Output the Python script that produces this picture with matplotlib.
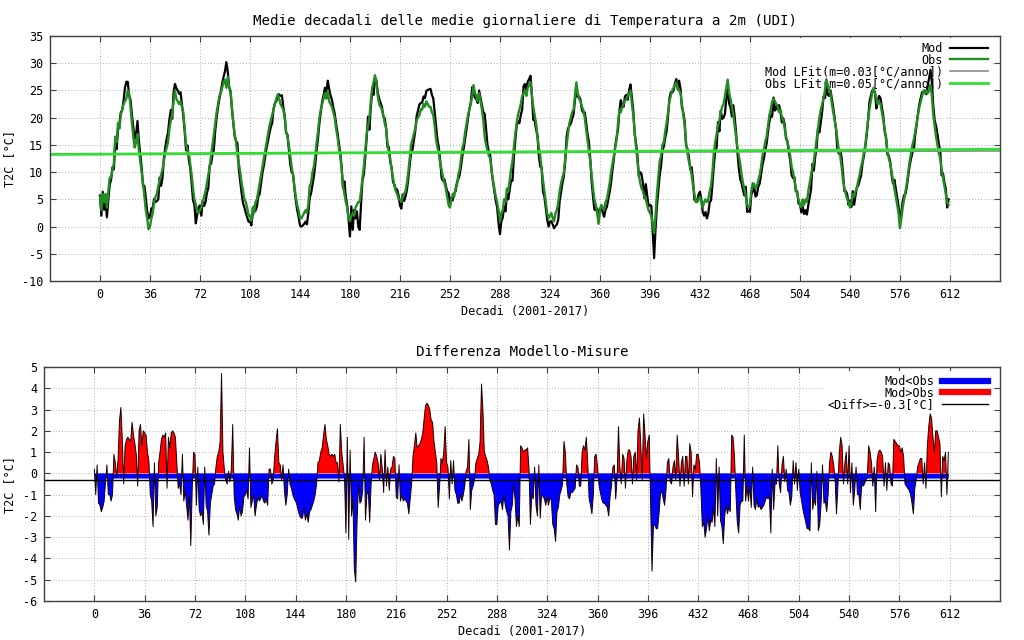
import numpy as np
import matplotlib
matplotlib.use("Agg")
import matplotlib.pyplot as plt
from matplotlib.lines import Line2D

# decadal means of observed T2C, one list per year (36 decades)
obs_2001 = [5.5, 3.0, 6.0, 4.5, 6.0, 3.5, 6.5, 9.0, 9.0, 10.5, 11.5, 16.5, 15.5, 19.0, 18.0, 20.5, 21.5, 22.5,
            23.0, 23.5, 25.0, 24.5, 22.0, 19.0, 16.5, 14.5, 15.5, 17.0, 14.0, 12.0, 10.0, 8.0, 5.5, 3.0, 1.5, -0.5]
obs_2002 = [0.0, 1.5, 2.5, 4.5, 5.5, 6.0, 7.5, 8.5, 9.5, 10.5, 12.0, 13.5, 14.5, 15.5, 18.0, 19.5, 20.5, 23.0,
            25.0, 23.5, 23.0, 22.5, 23.0, 22.0, 21.0, 18.0, 15.0, 14.0, 13.5, 11.5, 9.5, 7.0, 5.0, 4.0, 3.0, 2.5]
obs_2003 = [3.0, 3.5, 4.5, 5.5, 6.5, 8.0, 9.5, 11.0, 13.0, 15.0, 17.0, 19.0, 21.0, 22.5, 24.0, 24.5, 25.5, 26.5,
            27.0, 25.5, 27.5, 25.5, 25.0, 22.0, 19.0, 17.0, 15.5, 13.0, 11.5, 10.0, 8.0, 6.5, 5.0, 4.5, 3.5, 2.0]
obs_2004 = [2.0, 1.0, 3.5, 2.5, 4.5, 5.0, 6.5, 8.0, 9.5, 11.0, 12.5, 14.0, 15.5, 17.0, 18.5, 19.5, 20.5, 21.5,
            22.5, 23.5, 24.3, 23.5, 22.5, 22.0, 21.5, 20.0, 17.5, 16.5, 15.0, 13.0, 11.0, 9.5, 7.5, 5.5, 4.0, 3.0]
obs_2005 = [1.5, 1.5, 2.0, 2.5, 3.0, 2.5, 4.0, 7.5, 8.0, 10.0, 11.0, 13.0, 15.5, 17.5, 20.0, 21.5, 22.5, 23.5,
            24.5, 23.5, 25.0, 23.0, 22.5, 22.0, 21.0, 20.0, 18.0, 16.5, 14.5, 13.0, 10.5, 7.5, 6.0, 4.5, 3.5, 1.5]
obs_2006 = [1.0, 2.0, 2.5, 2.0, 3.5, 4.0, 4.5, 4.5, 6.5, 9.0, 11.0, 14.0, 17.0, 18.5, 20.0, 23.0, 25.5, 26.5,
            27.8, 26.5, 24.0, 22.5, 22.0, 21.5, 20.5, 19.0, 18.0, 15.5, 13.5, 12.5, 10.5, 9.0, 7.5, 6.5, 6.0, 5.0]
obs_2007 = [5.0, 4.5, 5.5, 6.0, 6.5, 8.0, 10.0, 12.5, 15.0, 16.0, 17.0, 18.0, 19.5, 20.0, 20.5, 21.5, 21.5, 22.5,
            22.0, 23.0, 22.5, 22.0, 22.0, 21.0, 20.5, 18.5, 16.0, 14.5, 13.5, 11.5, 10.5, 9.0, 8.0, 7.0, 5.5, 4.0]
obs_2008 = [3.5, 5.0, 6.0, 5.5, 7.0, 7.5, 9.5, 10.5, 12.5, 14.5, 15.5, 17.5, 19.0, 20.5, 21.5, 22.5, 24.0, 26.0,
            24.5, 24.0, 23.0, 24.5, 23.0, 21.5, 19.5, 16.5, 15.0, 14.0, 13.0, 12.5, 10.0, 8.5, 7.0, 5.5, 4.5, 3.0]
obs_2009 = [1.0, 2.5, 3.0, 5.0, 4.5, 7.0, 6.5, 8.5, 10.5, 12.0, 14.5, 17.0, 19.0, 20.5, 21.5, 22.5, 24.0, 24.5,
            25.0, 24.0, 25.5, 26.0, 26.5, 24.0, 22.0, 20.5, 19.0, 16.5, 14.5, 13.0, 10.5, 8.5, 6.5, 4.5, 2.5, 1.5]
obs_2010 = [2.0, 2.5, 1.5, 1.0, 2.5, 3.0, 4.5, 6.5, 8.0, 9.0, 10.0, 12.5, 15.0, 17.0, 19.0, 20.0, 21.0, 21.5,
            24.0, 26.5, 24.5, 23.5, 23.0, 22.0, 21.5, 20.0, 18.0, 16.0, 14.0, 12.0, 9.5, 7.0, 5.0, 4.0, 2.5, 0.5]
obs_2011 = [3.0, 4.0, 3.5, 3.0, 4.5, 5.0, 6.5, 8.0, 10.0, 11.5, 13.0, 14.5, 16.0, 19.0, 21.5, 21.0, 22.0, 22.5,
            23.0, 23.5, 24.0, 24.5, 25.0, 22.5, 20.5, 17.5, 14.5, 12.0, 9.5, 8.0, 7.0, 6.5, 5.5, 5.0, 4.0, 3.0]
obs_2012 = [2.5, 2.0, 0.5, -1.2, 2.0, 6.0, 9.0, 12.0, 13.0, 15.0, 15.5, 17.5, 19.0, 21.0, 23.0, 24.0, 25.0, 25.5,
            26.0, 26.5, 25.5, 25.0, 24.5, 22.5, 20.5, 18.5, 15.5, 13.5, 12.0, 11.0, 9.5, 7.5, 6.0, 4.5, 4.5, 5.0]
obs_2013 = [5.5, 4.5, 3.5, 4.5, 5.0, 4.5, 5.0, 6.5, 7.5, 10.0, 13.5, 15.5, 17.0, 18.5, 19.5, 21.0, 22.0, 22.5,
            24.0, 25.5, 27.0, 24.5, 23.5, 22.0, 20.5, 18.5, 16.5, 14.5, 13.0, 11.5, 9.5, 8.0, 7.0, 5.5, 4.0, 3.5]
obs_2014 = [4.0, 6.5, 8.0, 7.5, 7.0, 7.5, 8.5, 9.5, 11.0, 13.0, 14.0, 15.5, 16.5, 18.5, 20.5, 21.5, 23.0, 23.5,
            23.0, 22.5, 22.0, 21.0, 21.5, 20.0, 19.5, 18.0, 16.5, 15.5, 14.5, 13.0, 11.0, 10.0, 8.5, 7.0, 6.0, 5.0]
obs_2015 = [4.0, 3.5, 5.0, 4.0, 5.0, 4.5, 6.5, 8.0, 9.5, 11.0, 12.0, 14.0, 16.0, 18.0, 20.0, 21.5, 22.5, 23.5,
            25.0, 27.0, 26.0, 25.0, 24.5, 22.5, 21.0, 19.5, 18.0, 16.0, 14.0, 13.0, 11.0, 8.5, 7.0, 6.0, 5.0, 4.5]
obs_2016 = [3.5, 4.5, 6.0, 5.5, 6.5, 7.0, 8.5, 9.5, 11.0, 12.0, 13.5, 15.0, 17.0, 19.5, 21.5, 23.0, 24.5, 25.5,
            24.5, 23.5, 22.5, 23.0, 22.5, 21.0, 19.5, 18.0, 16.0, 14.0, 12.5, 11.5, 10.0, 8.5, 7.0, 5.5, 4.0, 2.5]
obs_2017 = [-0.3, 1.5, 3.5, 5.0, 6.5, 8.0, 10.0, 12.0, 13.5, 15.0, 16.0, 17.5, 19.0, 20.5, 22.0, 23.0, 24.0, 25.0,
            24.5, 25.0, 24.5, 25.0, 26.0, 24.0, 20.5, 18.5, 16.5, 15.0, 13.5, 12.5, 10.5, 9.0, 7.5, 6.0, 4.5, 4.0]

# model minus observation, same decades
diff_2001 = [0.2, -1.0, 0.4, -1.4, -1.5, -1.8, -1.6, -1.3, -0.4, 0.4, -1.0, -1.0, -1.3, -1.0, 0.9, 0.5, -0.2, 0.7,
             2.5, 3.1, 1.6, -0.5, 1.3, 1.6, 1.7, 1.6, 1.5, 2.4, 1.8, 1.4, 0.9, -0.6, 2.0, 2.3, 1.3, 2.0]
diff_2002 = [1.9, 1.8, 1.0, 0.6, -1.0, -1.3, -2.5, 0.5, -2.0, -1.6, 0.5, 1.0, 1.6, 1.8, 1.7, 1.9, -0.7, 1.7,
             1.2, 1.9, 2.0, 1.9, 1.7, 0.5, -0.7, -0.5, -1.0, 0.9, -1.3, -0.8, -1.5, -2.2, -1.0, -3.4, -0.8, 1.0]
diff_2003 = [0.9, -1.5, 0.3, -1.7, -2.0, -1.8, -2.4, 0.3, -1.5, -1.8, -2.9, -1.4, -1.0, -0.6, -0.5, 0.3, 0.8, 1.0,
             1.5, 4.7, 1.0, 0.2, -0.3, -0.5, 0.1, -0.4, 0.2, 2.3, -1.0, -1.7, -1.9, -2.2, -1.5, -2.0, -1.8, -1.1]
diff_2004 = [-1.0, -0.8, -1.2, 1.2, -1.6, -1.3, -1.0, -2.0, -1.5, -1.1, -1.3, -1.2, -1.0, -1.3, -1.4, -1.2, -1.5, 0.2,
             0.2, -0.5, -0.3, 0.8, 1.5, 2.1, 0.5, 0.4, -0.3, 0.4, -0.8, -1.5, -1.0, 0.2, -0.5, -0.7, -1.0, -1.2]
diff_2005 = [-1.3, -1.5, -1.8, -2.0, -2.1, -2.1, -1.6, -2.2, -1.9, -2.3, -1.8, -1.7, -1.5, -1.3, -1.0, -0.5, 0.5, 0.6,
             1.0, 1.2, 1.8, 2.3, 1.6, 1.3, 0.9, 0.8, 0.9, 0.8, 0.9, 0.5, 0.5, -0.4, 2.3, 1.0, 0.4, -0.2]
diff_2006 = [-2.8, 1.7, -3.1, 1.1, -2.0, -1.2, -4.5, -5.1, -2.2, -0.5, -1.4, -1.3, -0.8, 1.7, -2.2, -1.0, -0.8, -2.3,
             -0.5, 0.4, 0.7, 1.0, 0.8, 0.5, -0.3, 0.9, 0.2, -0.9, 1.1, -0.6, 0.3, -0.8, 0.2, 0.3, 0.8, 0.7]
diff_2007 = [-1.1, -1.2, 0.4, -1.3, -1.0, -1.3, -1.2, -1.3, -1.4, -1.9, -1.2, -0.5, 0.8, 1.3, 1.9, 1.2, 1.3, 1.4,
             1.6, 1.9, 2.6, 3.2, 3.3, 3.2, 3.0, 2.5, 2.4, 1.5, 1.0, 0.5, -1.6, -0.6, 0.7, 0.5, 1.0, 2.2]
diff_2008 = [0.5, 0.3, -1.2, 0.6, -0.5, 0.6, -0.8, -1.0, -1.4, -1.4, -1.0, -1.3, -1.0, -0.6, 0.1, 0.3, 1.6, -1.7,
             -0.8, -0.6, -0.3, 0.5, 0.7, 0.9, 1.5, 4.2, 3.0, 1.0, 0.8, 0.6, 0.3, -0.3, -0.5, -0.8, -1.0, -2.4]
diff_2009 = [-2.4, -1.5, -1.4, -1.3, -1.7, -1.0, -1.5, -1.8, -2.0, -3.6, -1.8, -1.5, -0.5, -1.2, -2.5, -2.0, -2.5, 1.3,
             1.2, 1.0, 1.1, 1.1, 1.2, 0.2, -2.4, -1.0, -1.2, 0.3, -1.5, -2.0, 0.4, -2.1, -1.0, -1.1, -1.2, -1.5]
diff_2010 = [-1.1, -1.5, -1.1, -1.3, -2.4, -2.6, -3.2, -1.8, -1.6, -1.0, -0.8, -0.5, 1.5, 1.0, -0.5, -1.1, -1.2, -0.9,
             -0.9, -0.8, -0.7, 0.4, 0.3, -0.6, -0.6, 1.0, 1.3, 1.1, 1.7, 0.5, -1.2, -1.5, -1.9, -1.0, 0.8, 0.9]
diff_2011 = [0.3, -0.5, -0.9, -1.2, -1.4, -1.4, -1.5, -1.6, -2.0, -1.1, -0.6, 0.3, 0.4, -1.2, -0.3, 2.2, 0.3, -0.5,
             0.9, 0.7, -0.7, 0.6, 1.1, 1.1, 0.8, -0.5, 0.8, 1.0, -0.3, 2.0, 2.6, 1.3, -0.3, 2.8, 1.8, 0.7]
diff_2012 = [1.5, 1.8, -1.5, -4.6, -2.5, -2.4, -2.6, -2.6, -1.9, -1.0, -0.8, -1.2, -1.5, -0.8, 0.5, 0.7, -0.4, -0.5,
             0.3, 0.6, -0.3, 1.8, 0.8, -0.6, 0.5, 0.8, -0.6, 0.8, 0.8, -0.5, 1.4, 1.0, -1.1, 0.4, 0.2, 0.9]
diff_2013 = [0.9, 0.5, -0.8, -2.5, -2.3, -3.0, -2.6, -2.0, -2.7, -2.2, -2.3, -1.6, -2.5, 0.7, -2.0, 0.3, -2.2, -2.5,
             -3.3, -2.0, -1.5, -1.9, -1.6, -1.8, 1.8, 1.7, 0.8, -0.9, -2.3, -2.8, -1.5, -1.3, -1.3, 1.8, -1.3, -0.6]
diff_2014 = [-1.3, -0.6, -1.6, 0.3, -1.5, -1.7, -1.2, -1.6, -1.5, -1.7, -1.6, -1.5, -1.3, -1.1, -1.2, -1.1, -2.8, 0.2,
             -1.7, -0.5, -0.5, 1.3, -0.5, -0.9, 0.4, 0.8, -0.4, 0.2, -0.8, -0.9, -1.5, -1.1, 0.6, -0.5, 0.5, -0.8]
diff_2015 = [0.2, -0.9, -1.3, -1.7, -2.0, -2.3, -2.6, -2.6, -2.7, 0.5, -1.7, -1.2, -1.5, 0.1, -2.7, -2.4, -1.4, 0.4,
             -1.4, -1.3, -1.8, -1.0, 0.5, 1.0, 0.8, 0.4, -0.3, -1.9, -0.6, 1.0, 1.7, 1.3, -0.5, 0.5, 1.0, -0.5]
diff_2016 = [1.3, -0.9, 0.5, -1.5, -0.8, 0.3, -1.0, -1.0, -1.7, -0.5, -0.6, -0.5, -0.3, -0.2, 1.3, 1.0, 0.5, -0.6,
             0.3, -1.8, 0.6, 1.0, 1.1, 1.0, 0.8, -0.6, 0.5, -0.8, 0.5, 0.4, -0.5, -0.6, 1.6, 1.5, 1.4, 1.3]
diff_2017 = [1.3, 1.0, 1.2, 0.8, -0.5, -0.6, -0.7, -0.8, -1.0, -1.4, -1.9, -0.7, -0.3, 0.3, 0.5, 0.7, 0.7, -0.5,
             0.5, -0.7, 1.3, 2.2, 2.8, 2.6, 1.7, 1.0, 2.0, 2.0, 1.7, 1.4, -1.1, 0.8, 0.6, 1.0, -1.0, 1.0]

obs_years = [obs_2001, obs_2002, obs_2003, obs_2004, obs_2005, obs_2006, obs_2007, obs_2008, obs_2009,
             obs_2010, obs_2011, obs_2012, obs_2013, obs_2014, obs_2015, obs_2016, obs_2017]
diff_years = [diff_2001, diff_2002, diff_2003, diff_2004, diff_2005, diff_2006, diff_2007, diff_2008, diff_2009,
              diff_2010, diff_2011, diff_2012, diff_2013, diff_2014, diff_2015, diff_2016, diff_2017]

# linear fits: (value at decade 0, slope in degC per year)
mod_fit = (13.35, 0.03)
obs_fit = (13.30, 0.05)
mean_diff = -0.3
xticks = list(range(0, 613, 36))

obs = np.concatenate(obs_years)
diff = np.concatenate(diff_years)
mod = obs + diff
x = np.arange(len(obs))

plt.rcParams['font.family'] = ['DejaVu Sans Mono']
plt.rcParams['font.size'] = 8.5
plt.rcParams['axes.unicode_minus'] = False

fig = plt.figure(figsize=(10.24, 6.4), dpi=100)
ax1 = fig.add_axes([0.0488, 0.5609, 0.9277, 0.3828])
ax2 = fig.add_axes([0.0430, 0.0609, 0.9336, 0.3656])


def style(ax):
    ax.set_xlim(-36, 648)
    ax.set_xticks(xticks)
    ax.set_axisbelow(True)
    ax.grid(True, color='#b0b0b0', linestyle=(0, (1, 2)), linewidth=0.7)
    ax.tick_params(direction='in', length=4, top=True, right=True, pad=5, color='#404040')
    for s in ax.spines.values():
        s.set_color('#404040')
        s.set_linewidth(1)
    ax.set_xlabel('Decadi (2001-2017)', labelpad=3)


# top: temperatures
style(ax1)
xf = np.array([-36, 648])
ax1.plot(x, mod, color='black', lw=1.6, label='Mod')
ax1.plot(x, obs, color='#228b22', lw=1.7, label='Obs')
ax1.plot(xf, mod_fit[0] + mod_fit[1] * xf / 36, color='#8c8c8c', lw=1.2,
         label=f'Mod LFit(m={mod_fit[1]:.2f}[°C/anno])')
ax1.plot(xf, obs_fit[0] + obs_fit[1] * xf / 36, color='#33dd33', lw=2,
         label=f'Obs LFit(m={obs_fit[1]:.2f}[°C/anno])')
ax1.set_ylim(-10, 35)
ax1.set_yticks(range(-10, 36, 5))
ax1.set_title('Medie decadali delle medie giornaliere di Temperatura a 2m (UDI)', pad=8)
ax1.set_ylabel('T2C [°C]')
ax1.yaxis.set_label_coords(-0.036, 0.5)
leg1 = ax1.legend(loc='upper right', bbox_to_anchor=(0.991, 0.991), markerfirst=False, fancybox=False,
                  edgecolor='none', facecolor='white', framealpha=1, handlelength=3.2, labelspacing=-0.1,
                  borderaxespad=0, borderpad=0.3, handletextpad=0.6)
leg1.set_zorder(1.5)

# bottom: differences
style(ax2)
ax2.fill_between(x, -0.22, 0, color='#0000ff', lw=0)
ax2.fill_between(x, diff, 0, where=diff < 0, interpolate=True, color='#0000ff', lw=0)
ax2.fill_between(x, diff, 0, where=diff > 0, interpolate=True, color='#ff0000', lw=0)
ax2.plot(x, diff, color='#1a0000', lw=0.7)
ax2.axhline(mean_diff, color='black', lw=1)
ax2.set_ylim(-6, 5)
ax2.set_yticks(range(-6, 6))
ax2.set_title('Differenza Modello-Misure', pad=8)
ax2.set_ylabel('T2C [°C]')
ax2.yaxis.set_label_coords(-0.029, 0.5)
handles = [Line2D([], [], color='#0000ff', lw=4.5), Line2D([], [], color='#ff0000', lw=4.5),
           Line2D([], [], color='black', lw=1)]
labels = ['Mod<Obs', 'Mod>Obs', f'<Diff>={mean_diff}[°C]']
leg2 = ax2.legend(handles, labels, loc='upper right', bbox_to_anchor=(0.991, 0.982), markerfirst=False,
                  fancybox=False, edgecolor='none', facecolor='white', framealpha=1, handlelength=3.9,
                  labelspacing=-0.1, borderaxespad=0, borderpad=0.3, handletextpad=0.6)
leg2.set_zorder(1.5)

fig.savefig('out.png', dpi=100)
